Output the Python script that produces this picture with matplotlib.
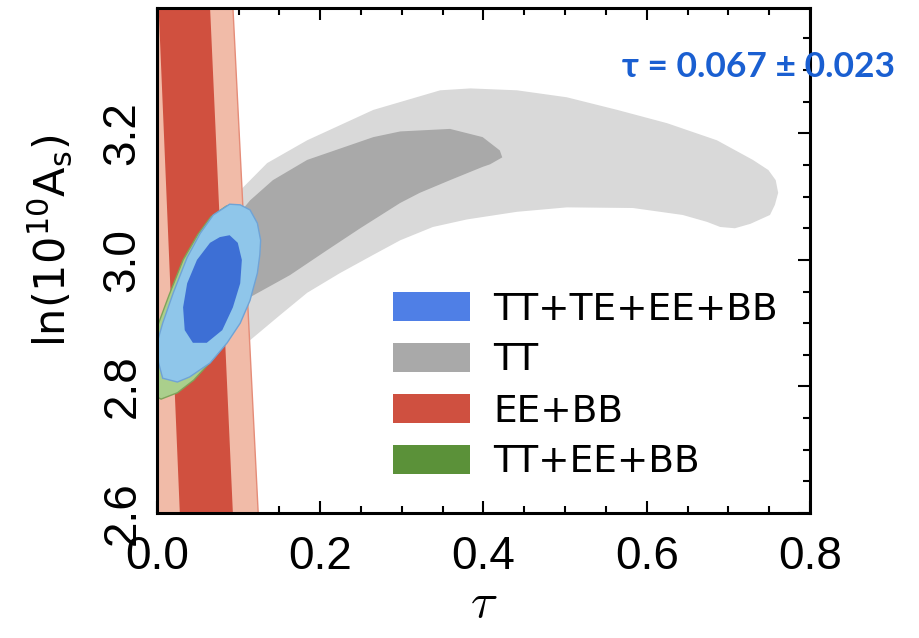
import matplotlib
matplotlib.use("Agg")
import matplotlib.pyplot as plt
from matplotlib.patches import Patch
from matplotlib.ticker import MultipleLocator

# contour outlines: tau and ln(10^10 A_s)
tt_outer_tau = [0.022, 0.053, 0.083, 0.102, 0.135, 0.184, 0.265, 0.347, 0.384, 0.441, 0.502,
                0.564, 0.625, 0.686, 0.730, 0.749, 0.758, 0.761, 0.757, 0.751, 0.727, 0.708,
                0.690, 0.674, 0.644, 0.583, 0.502, 0.441, 0.380, 0.338, 0.298, 0.265, 0.224,
                0.184, 0.151, 0.114, 0.077, 0.040, 0.016]
tt_outer_las = [2.889, 3.000, 3.071, 3.110, 3.153, 3.189, 3.237, 3.268, 3.271, 3.268, 3.257,
                3.237, 3.216, 3.189, 3.158, 3.142, 3.126, 3.106, 3.087, 3.071, 3.057, 3.050,
                3.052, 3.060, 3.071, 3.082, 3.083, 3.076, 3.064, 3.052, 3.031, 3.008, 2.979,
                2.948, 2.913, 2.873, 2.834, 2.802, 2.794]

tt_inner_tau = [0.053, 0.089, 0.114, 0.142, 0.184, 0.265, 0.298, 0.359, 0.399, 0.420, 0.423,
                0.408, 0.399, 0.359, 0.322, 0.298, 0.249, 0.208, 0.163, 0.114, 0.077, 0.053]
tt_inner_las = [2.984, 3.055, 3.094, 3.126, 3.158, 3.194, 3.203, 3.207, 3.194, 3.173, 3.162,
                3.151, 3.147, 3.126, 3.106, 3.090, 3.050, 3.015, 2.976, 2.941, 2.905, 2.881]

ee_outer_tau = [-0.030, 0.093, 0.124, -0.004]
ee_outer_las = [3.4, 3.4, 2.6, 2.6]
ee_inner_tau = [0.002, 0.065, 0.093, 0.028]
ee_inner_las = [3.4, 3.4, 2.6, 2.6]

green_outer_tau = [0.085, 0.100, 0.112, 0.120, 0.123, 0.120, 0.110, 0.095, 0.070, 0.045,
                   0.025, 0.005, -0.010, -0.010, 0.002, 0.015, 0.032, 0.050, 0.066]
green_outer_las = [3.085, 3.083, 3.072, 3.050, 3.020, 2.980, 2.935, 2.890, 2.845, 2.810,
                   2.790, 2.780, 2.790, 2.850, 2.900, 2.945, 3.000, 3.040, 3.068]
green_inner_tau = [0.085, 0.098, 0.100, 0.090, 0.075, 0.055, 0.038, 0.028, 0.030, 0.045, 0.068]
green_inner_las = [3.030, 3.015, 2.960, 2.915, 2.880, 2.860, 2.865, 2.900, 2.950, 3.000, 3.030]

all_outer_tau = [0.089, 0.102, 0.114, 0.123, 0.127, 0.126, 0.123, 0.114, 0.102, 0.086, 0.065,
                 0.040, 0.025, 0.007, 0.001, 0.001, 0.007, 0.020, 0.037, 0.053, 0.069]
all_outer_las = [3.088, 3.087, 3.079, 3.058, 3.031, 3.008, 2.979, 2.936, 2.900, 2.869, 2.837,
                 2.815, 2.807, 2.813, 2.842, 2.873, 2.900, 2.948, 3.004, 3.042, 3.071]
all_inner_tau = [0.089, 0.099, 0.104, 0.102, 0.093, 0.080, 0.061, 0.044, 0.034, 0.032, 0.037,
                 0.049, 0.065, 0.077]
all_inner_las = [3.039, 3.027, 3.000, 2.963, 2.925, 2.889, 2.869, 2.869, 2.889, 2.925, 2.963,
                 3.000, 3.027, 3.036]

x_ticks = [0.0, 0.2, 0.4, 0.6, 0.8]
y_ticks = [2.6, 2.8, 3.0, 3.2]
labels = ["TT+TE+EE+BB", "TT", "EE+BB", "TT+EE+BB"]
legend_colors = ["#4f7fe6", "#a9a9a9", "#cf5040", "#5b9139"]
tau_text = "τ = 0.067 ± 0.023"

tick_font = ["Liberation Sans", "DejaVu Sans"]

fig = plt.figure(figsize=(9.19, 6.38), dpi=100)
ax = fig.add_axes([0.1708, 0.1959, 0.7106, 0.7915])

# TT (grey), then EE+BB (red), TT+EE+BB (green), all (blue) on top
ax.fill(tt_outer_tau, tt_outer_las, color="#d9d9d9", lw=0, zorder=1)
ax.fill(tt_inner_tau, tt_inner_las, color="#a9a9a9", lw=0, zorder=2)
ax.fill(ee_outer_tau, ee_outer_las, facecolor="#f1bba8", edgecolor="#e58c78", lw=1, zorder=3)
ax.fill(ee_inner_tau, ee_inner_las, color="#d0503f", lw=0, zorder=4)
ax.fill(green_outer_tau, green_outer_las, facecolor="#aacf8c", edgecolor="#7fa35a", lw=1, zorder=5)
ax.fill(green_inner_tau, green_inner_las, color="#5b9139", lw=0, zorder=6)
ax.fill(all_outer_tau, all_outer_las, facecolor="#8fc6ea", edgecolor="#6fa3d6", lw=1, zorder=7)
ax.fill(all_inner_tau, all_inner_las, color="#3d6fd5", lw=0, zorder=8)

ax.set_xticks(x_ticks)
ax.set_xticklabels([f"{v:.1f}" for v in x_ticks], family=tick_font, fontsize=33)
ax.set_yticks(y_ticks)
ax.set_yticklabels([f"{v:.1f}" for v in y_ticks], family=tick_font, fontsize=33,
                   rotation=90, va="center")
ax.xaxis.set_minor_locator(MultipleLocator(0.05))
ax.yaxis.set_minor_locator(MultipleLocator(0.05))
ax.set_xlim(0.0, 0.8)
ax.set_ylim(2.6, 3.398)
ax.tick_params(which="both", direction="in", top=True, right=True, width=1.5, zorder=20)
ax.tick_params(which="major", length=8.5)
ax.tick_params(which="minor", length=5)
ax.tick_params(axis="x", pad=16)
ax.tick_params(axis="y", pad=9)
for s in ax.spines.values():
    s.set_linewidth(2.2)
    s.set_zorder(20)

fig.text(484 / 919, 1 - 603 / 638, r"$\tau$", math_fontfamily="cm", fontsize=36,
         ha="center", va="center")
fig.text(50 / 919, 1 - 241 / 638, r"$\mathregular{ln(10^{10}A_s)}$", fontsize=31,
         rotation=90, ha="center", va="center")

handles = [Patch(facecolor=c, edgecolor="none") for c in legend_colors]
ax.legend(handles, labels, loc="center left", bbox_to_anchor=(393 / 919, 1 - 386 / 638),
          bbox_transform=fig.transFigure, frameon=False, fontsize=27, borderpad=0,
          borderaxespad=0, handlelength=2.05, handleheight=0.8, handletextpad=0.62,
          labelspacing=0.4)

fig.text(622 / 919, 1 - 67 / 638, tau_text, family=["Lato", "DejaVu Sans"], fontweight="bold",
         fontsize=25.5, color="#1a5fd1", ha="left", va="center")

fig.savefig("out.png", dpi=100)
